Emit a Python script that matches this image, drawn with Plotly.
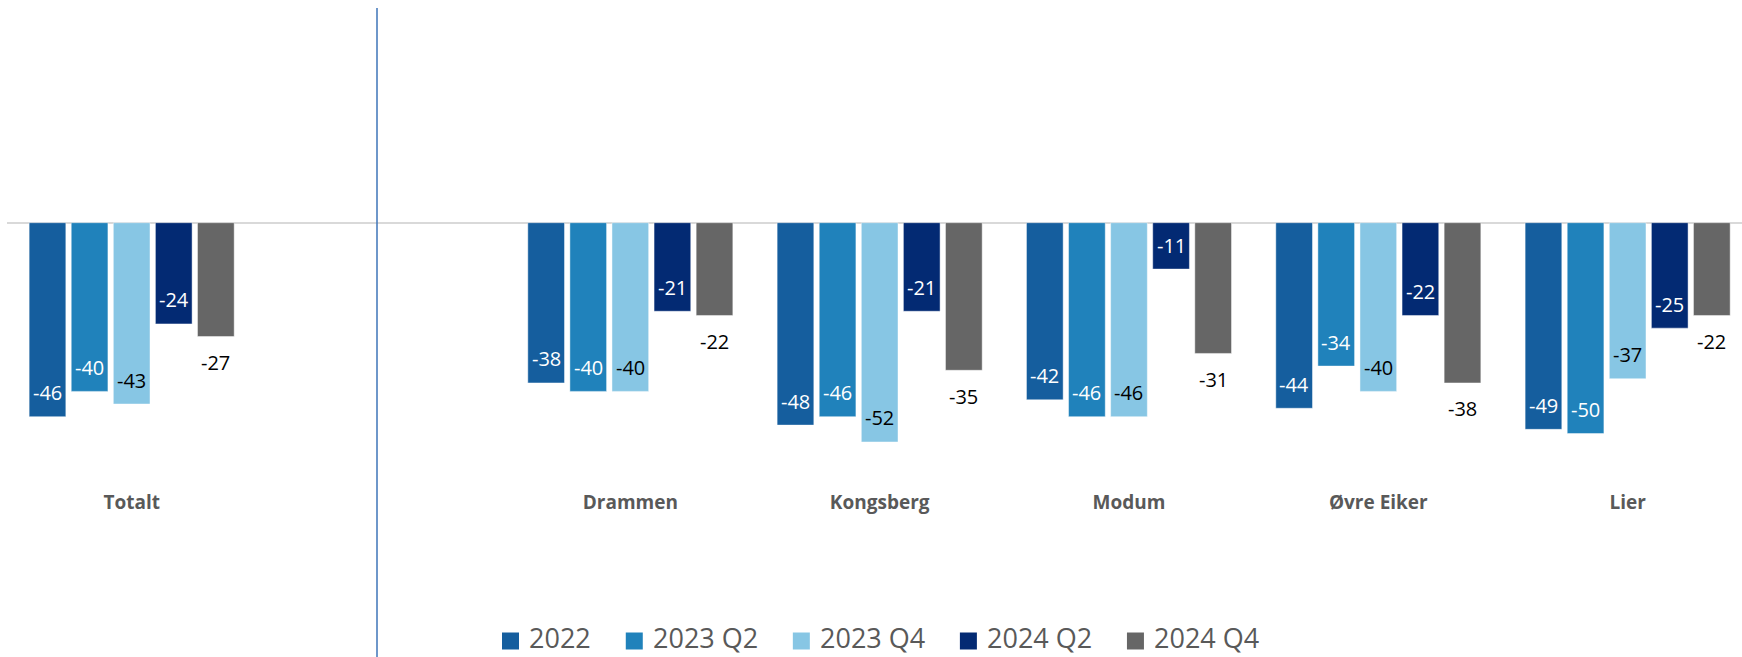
import plotly.graph_objects as go

categories = ["Totalt", "Drammen", "Kongsberg", "Modum", "Øvre Eiker", "Lier"]
series_names = ["2022", "2023 Q2", "2023 Q4", "2024 Q2", "2024 Q4"]
v2022 = [-46, -38, -48, -42, -44, -49]
v2023q2 = [-40, -40, -46, -46, -34, -50]
v2023q4 = [-43, -40, -52, -46, -40, -37]
v2024q2 = [-24, -21, -21, -11, -22, -25]
v2024q4 = [-27, -22, -35, -31, -38, -22]
series_values = [v2022, v2023q2, v2023q4, v2024q2, v2024q4]

colors = ["#155E9E", "#2082BB", "#87C6E4", "#032A73", "#666666"]
label_colors = ["white", "white", "black", "white", "black"]
label_inside = [True, True, True, True, False]

FONT = "Open Sans, Roboto, sans-serif"
GREY_TEXT = "#595959"

# category positions: a blank slot after "Totalt"
pos = [i + (1 if i > 0 else 0) for i in range(len(categories))]

bargap = 0.156
bargroupgap = 0.128
n = len(series_names)
slot = (1 - bargap) / n

fig = go.Figure()
annotations = []
for k, (name, vals) in enumerate(zip(series_names, series_values)):
    fig.add_trace(go.Bar(
        x=pos, y=vals, name=name, showlegend=False,
        marker=dict(color=colors[k], line=dict(width=1, color="rgba(255,255,255,0.45)")),
        hovertemplate=name + ": %{y}<extra></extra>",
    ))
    for p, v in zip(pos, vals):
        annotations.append(dict(
            x=p + (k - (n - 1) / 2) * slot, y=v, xref="x", yref="y",
            text=str(v), showarrow=False,
            yshift=24 if label_inside[k] else -26,
            font=dict(family=FONT, size=20, color=label_colors[k]),
        ))

# ---- layout geometry (pixels) ----
W, H = 1742, 657
left, top, bottom = 7, 8, 489
plot_w = W - left
plot_h = bottom - top
cat_px = 249.33
x_lo = -0.5
x_hi = x_lo + plot_w / cat_px
zero_px = 222.7
px_per_unit = 4.217
y_hi = (zero_px - top) / px_per_unit
y_lo = -(bottom - zero_px) / px_per_unit

line_x = x_lo + (377 - left) / cat_px


def px_to_paper_x(px):
    return (px - left) / plot_w


def px_to_paper_y(py):
    return (bottom - py) / plot_h


shapes = [dict(
    type="line", xref="x", yref="paper",
    x0=line_x, x1=line_x, y0=1, y1=px_to_paper_y(H),
    line=dict(color="#3E75B8", width=1.5),
)]

# ---- legend (drawn as swatches + text, Excel style) ----
LEG_SIZE = 27
ADV = {" ": 0.26, "Q": 0.771}


def text_width(s, size):
    return sum(ADV.get(ch, 0.572) for ch in s) * size


sw = 17
leg_x = 502
leg_cy = 641
for k, name in enumerate(series_names):
    shapes.append(dict(
        type="rect", xref="paper", yref="paper",
        x0=px_to_paper_x(leg_x), x1=px_to_paper_x(leg_x + sw),
        y0=px_to_paper_y(leg_cy + sw / 2), y1=px_to_paper_y(leg_cy - sw / 2),
        fillcolor=colors[k], line=dict(width=0),
    ))
    annotations.append(dict(
        x=px_to_paper_x(leg_x + sw + 9), y=px_to_paper_y(H),
        xref="paper", yref="paper", xanchor="left", yanchor="bottom",
        text=name, showarrow=False, borderpad=0,
        font=dict(family=FONT, size=LEG_SIZE, color=GREY_TEXT),
    ))
    leg_x += sw + 9 + text_width(name, LEG_SIZE) + 36

fig.update_layout(
    width=W, height=H,
    margin=dict(l=left, r=0, t=top, b=H - bottom, pad=0, autoexpand=False),
    paper_bgcolor="white", plot_bgcolor="white",
    barmode="group", bargap=bargap, bargroupgap=bargroupgap,
    font=dict(family=FONT, color=GREY_TEXT),
    xaxis=dict(
        range=[x_lo, x_hi], tickmode="array", tickvals=pos, ticktext=categories,
        showgrid=False, zeroline=False, showline=False, ticks="", automargin=False,
        tickfont=dict(family=FONT, size=19, color=GREY_TEXT, weight="bold"),
    ),
    yaxis=dict(
        range=[y_lo, y_hi], showgrid=False, showticklabels=False, ticks="", automargin=False,
        zeroline=True, zerolinecolor="#D9D9D9", zerolinewidth=2, showline=False,
    ),
    annotations=annotations,
    shapes=shapes,
    showlegend=False,
)

fig.write_html(
    "out.html",
    config={"displayModeBar": False},
    post_script="document.body.style.margin='0';document.body.style.padding='0';",
)
